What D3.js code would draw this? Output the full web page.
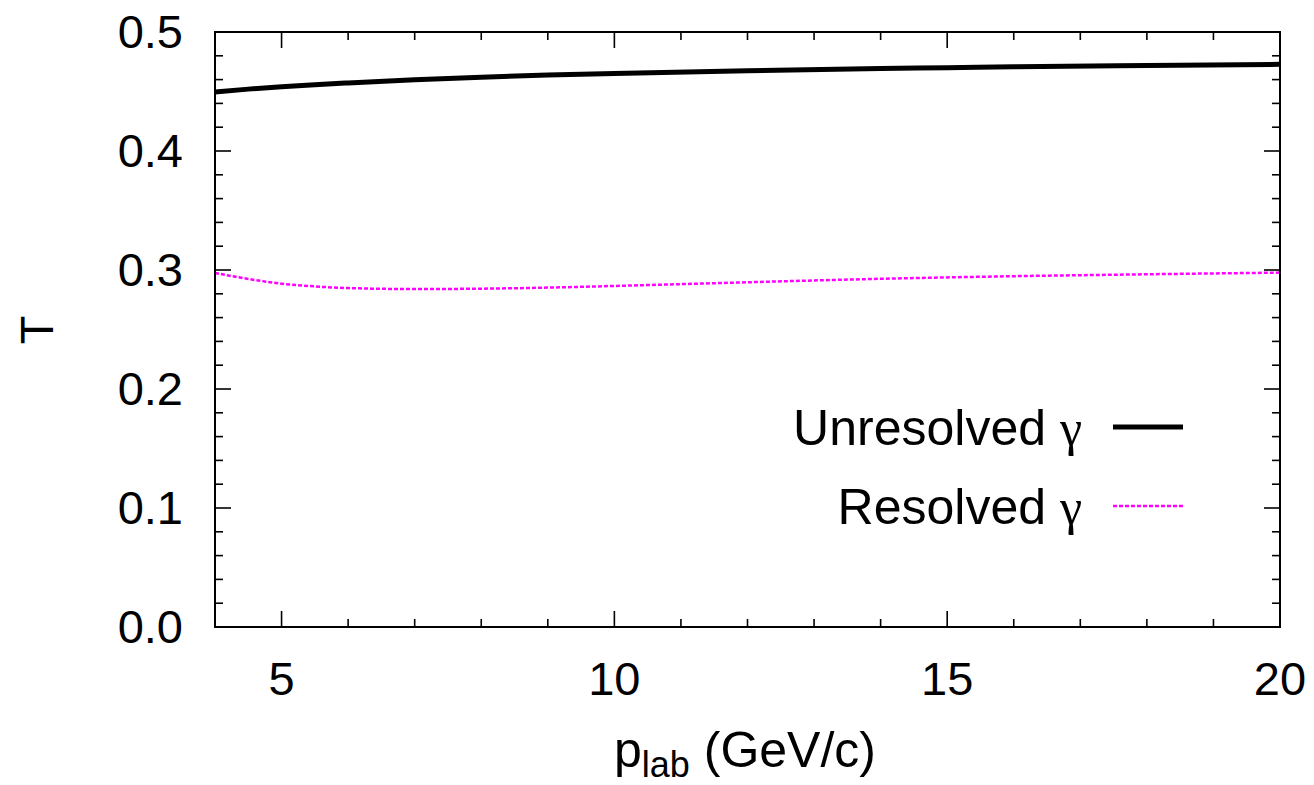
<!DOCTYPE html>
<html>
<head>
<meta charset="utf-8">
<script src="https://cdn.jsdelivr.net/npm/d3@7"></script>
<style>
body { margin: 0; background: #fff; }
svg text { font-family: "Liberation Sans", Arial, sans-serif; }
</style>
</head>
<body>
<div id="chart"></div>
<script>
// momenta in GeV/c
var plab = [4, 4.5, 5, 5.5, 6, 7, 8, 9, 10, 12, 14, 15, 16, 18, 20];
var unresolved = [0.4496, 0.4520, 0.4540, 0.4557, 0.4572, 0.4598, 0.4620, 0.4638, 0.4652, 0.4675, 0.4693, 0.4700, 0.4707, 0.4718, 0.4728];
var resolved = [0.2975, 0.2925, 0.2885, 0.2862, 0.2848, 0.2840, 0.2843, 0.2852, 0.2866, 0.2897, 0.2926, 0.2938, 0.2948, 0.2964, 0.2978];
var xTicks = [5, 10, 15, 20];
var yTicks = [0.0, 0.1, 0.2, 0.3, 0.4, 0.5];

var W = 1314, H = 785;
var pLeft = 215, pRight = 1280, pTop = 32, pBottom = 627;

var svg = d3.select('#chart').append('svg').attr('width', W).attr('height', H);

var x = d3.scaleLinear().domain([4, 20]).range([pLeft, pRight]);
var y = d3.scaleLinear().domain([0, 0.5]).range([pBottom, pTop]);

function ticks(sel, vals, majorVals, scale, horizontal) {
	// ticks mirrored on both sides of the frame
	vals.forEach(function (v) {
		var major = majorVals.some(function (m) { return Math.abs(m - v) < 1e-9; });
		var len = major ? 16 : 8;
		var p = scale(v);
		if (horizontal) {
			sel.append('line').attr('x1', p).attr('x2', p).attr('y1', pBottom).attr('y2', pBottom - len);
			sel.append('line').attr('x1', p).attr('x2', p).attr('y1', pTop).attr('y2', pTop + len);
		} else {
			sel.append('line').attr('y1', p).attr('y2', p).attr('x1', pLeft).attr('x2', pLeft + len);
			sel.append('line').attr('y1', p).attr('y2', p).attr('x1', pRight).attr('x2', pRight - len);
		}
	});
}

var tg = svg.append('g').attr('stroke', '#000').attr('stroke-width', 1.6);
ticks(tg, d3.range(5, 20, 1), xTicks, x, true);
ticks(tg, d3.range(1, 25).map(function (i) { return i * 0.02; }), yTicks, y, false);

svg.append('g').selectAll('text').data(xTicks).enter().append('text')
	.attr('x', function (d) { return x(d); })
	.attr('y', 695)
	.attr('text-anchor', 'middle')
	.attr('font-size', 47)
	.text(function (d) { return d; });

svg.append('g').selectAll('text').data(yTicks).enter().append('text')
	.attr('x', 183)
	.attr('y', function (d) { return y(d) + 16; })
	.attr('text-anchor', 'end')
	.attr('font-size', 47)
	.text(function (d) { return d.toFixed(1); });

var line = d3.line()
	.x(function (d) { return x(d[0]); })
	.y(function (d) { return y(d[1]); })
	.curve(d3.curveMonotoneX);

svg.append('path')
	.datum(d3.zip(plab, resolved))
	.attr('d', line)
	.attr('fill', 'none')
	.attr('stroke', '#ff00ff')
	.attr('stroke-width', 2.5)
	.attr('stroke-dasharray', '4,2');

svg.append('path')
	.datum(d3.zip(plab, unresolved))
	.attr('d', line)
	.attr('fill', 'none')
	.attr('stroke', '#000')
	.attr('stroke-width', 5);

svg.append('rect')
	.attr('x', pLeft).attr('y', pTop)
	.attr('width', pRight - pLeft).attr('height', pBottom - pTop)
	.attr('fill', 'none').attr('stroke', '#000').attr('stroke-width', 2);

// legend
var legend = [
	{ label: 'Unresolved ', color: '#000', width: 5, dash: null, y: 427 },
	{ label: 'Resolved ', color: '#ff00ff', width: 2.5, dash: '4,2', y: 506 }
];
legend.forEach(function (l) {
	var t = svg.append('text')
		.attr('x', 1082).attr('y', l.y + 18)
		.attr('text-anchor', 'end')
		.attr('font-size', 50);
	t.append('tspan').text(l.label);
	t.append('tspan').attr('font-family', '"Liberation Serif", serif').attr('font-size', 50).text('γ');
	svg.append('line')
		.attr('x1', 1113).attr('x2', 1183).attr('y1', l.y).attr('y2', l.y)
		.attr('stroke', l.color).attr('stroke-width', l.width)
		.attr('stroke-dasharray', l.dash);
});

var xl = svg.append('text')
	.attr('x', 745).attr('y', 767)
	.attr('text-anchor', 'middle')
	.attr('font-size', 50);
xl.append('tspan').text('p');
xl.append('tspan').attr('font-size', 36).attr('dy', 10).text('lab');
xl.append('tspan').attr('dy', -10).text(' (GeV/c)');

svg.append('text')
	.attr('transform', 'translate(53,330) rotate(-90)')
	.attr('text-anchor', 'middle')
	.attr('font-size', 47)
	.text('T');
</script>
</body>
</html>
